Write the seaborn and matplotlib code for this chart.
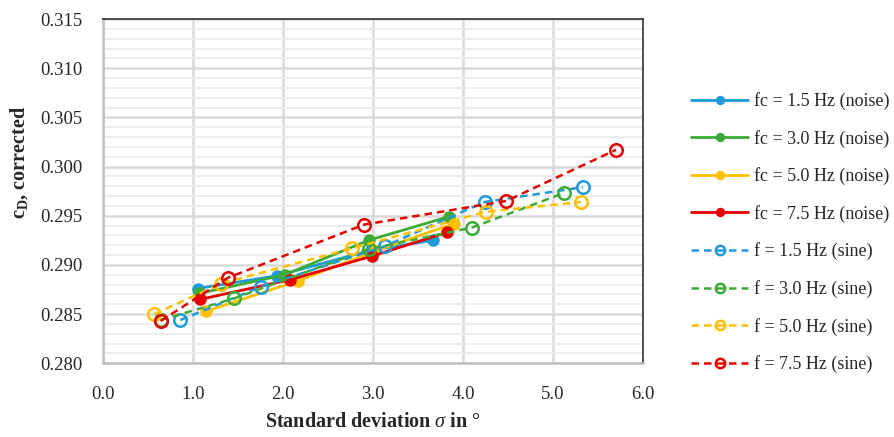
import matplotlib
matplotlib.use("Agg")
import matplotlib.pyplot as plt
from matplotlib.ticker import MultipleLocator
import seaborn as sns
import pandas as pd

# ---- data ----
noise_labels = ["fc = 1.5 Hz (noise)", "fc = 3.0 Hz (noise)", "fc = 5.0 Hz (noise)", "fc = 7.5 Hz (noise)"]
sine_labels = ["f = 1.5 Hz (sine)", "f = 3.0 Hz (sine)", "f = 5.0 Hz (sine)", "f = 7.5 Hz (sine)"]

noise15_x = [1.05, 1.93, 2.98, 3.67]
noise15_y = [0.2876, 0.2889, 0.2915, 0.2925]
noise30_x = [1.07, 2.02, 2.95, 3.84]
noise30_y = [0.2871, 0.2890, 0.2925, 0.2949]
noise50_x = [1.15, 2.17, 3.02, 3.90]
noise50_y = [0.2853, 0.2884, 0.2914, 0.2942]
noise75_x = [1.08, 2.08, 2.99, 3.82]
noise75_y = [0.2865, 0.2885, 0.2909, 0.2933]

sine15_x = [0.86, 1.76, 3.13, 4.24, 5.33]
sine15_y = [0.2844, 0.2878, 0.2919, 0.2964, 0.2979]
sine30_x = [0.64, 1.46, 2.95, 4.10, 5.12]
sine30_y = [0.2844, 0.2866, 0.2916, 0.2938, 0.2973]
sine50_x = [0.57, 1.31, 2.77, 4.25, 5.31]
sine50_y = [0.2850, 0.2881, 0.2917, 0.2954, 0.2964]
sine75_x = [0.64, 1.39, 2.90, 4.48, 5.70]
sine75_y = [0.2843, 0.2887, 0.2941, 0.2965, 0.3017]

colors = ["#1F9BDA", "#3CAB38", "#FFC000", "#E60000"]

x_ticks = [0.0, 1.0, 2.0, 3.0, 4.0, 5.0, 6.0]
y_ticks = [0.280, 0.285, 0.290, 0.295, 0.300, 0.305, 0.310, 0.315]

# ---- style ----
sns.set_theme(style="white")
plt.rcParams["font.family"] = ["Liberation Serif", "DejaVu Serif"]
plt.rcParams["mathtext.fontset"] = "custom"
plt.rcParams["mathtext.rm"] = "Liberation Serif"
plt.rcParams["mathtext.it"] = "Liberation Serif:italic"
plt.rcParams["mathtext.bf"] = "Liberation Serif:bold"

fig = plt.figure(figsize=(8.95, 4.37), dpi=100)
ax = fig.add_axes([103 / 895, 1 - 363.3 / 437, 540 / 895, 344.3 / 437])

noise = [(noise15_x, noise15_y), (noise30_x, noise30_y), (noise50_x, noise50_y), (noise75_x, noise75_y)]
sine = [(sine15_x, sine15_y), (sine30_x, sine30_y), (sine50_x, sine50_y), (sine75_x, sine75_y)]

for (xs, ys), lab, c in zip(noise, noise_labels, colors):
    df = pd.DataFrame({"x": xs, "y": ys})
    sns.lineplot(data=df, x="x", y="y", ax=ax, sort=False, estimator=None,
                 color=c, lw=2.0, marker="o", markersize=9, markeredgewidth=0,
                 label=lab, zorder=3)

for (xs, ys), lab, c in zip(sine, sine_labels, colors):
    df = pd.DataFrame({"x": xs, "y": ys})
    sns.lineplot(data=df, x="x", y="y", ax=ax, sort=False, estimator=None,
                 color=c, lw=1.8, linestyle=(0, (3, 2)), marker="o", markersize=9,
                 markerfacecolor="none", markeredgecolor=c, markeredgewidth=1.8,
                 label=lab, zorder=4)

ax.set_xlim(0, 6)
ax.set_ylim(0.280, 0.315)
ax.set_xticks(x_ticks)
ax.set_xticklabels([f"{v:.1f}" for v in x_ticks])
ax.set_yticks(y_ticks)
ax.set_yticklabels([f"{v:.3f}" for v in y_ticks])
ax.yaxis.set_minor_locator(MultipleLocator(0.001))

ax.grid(True, which="major", axis="both", color="#D9D9D9", lw=1.8, zorder=0)
ax.grid(True, which="minor", axis="y", color="#EBEBEB", lw=1.3, zorder=0)
ax.set_axisbelow(True)

ax.tick_params(axis="both", which="both", length=0, labelsize=13.5, colors="#262626")
ax.tick_params(axis="x", pad=16)
ax.tick_params(axis="y", pad=15)

for s in ["left", "bottom"]:
    ax.spines[s].set_color("#BFBFBF")
    ax.spines[s].set_linewidth(1.8)
for s in ["top", "right"]:
    ax.spines[s].set_color("#404040")
    ax.spines[s].set_linewidth(1.3)

ax.set_xlabel(r"Standard deviation $\sigma$ in °", fontsize=14.5, fontweight="bold",
              color="#262626", labelpad=7)
ax.set_ylabel(r"c$_{\mathbf{D}}$, corrected", fontsize=14.5, fontweight="bold",
              color="#262626")
ax.yaxis.set_label_coords((30 - 103) / 540, (363.3 - 162) / 344.3)

handles, labels = ax.get_legend_handles_labels()
ax.legend(handles, labels, loc="upper left",
          bbox_to_anchor=(691 / 895, 1 - 92 / 437), bbox_transform=fig.transFigure,
          frameon=False, fontsize=13, handlelength=3.16, handletextpad=0.33,
          labelspacing=1.09, borderpad=0, borderaxespad=0, markerscale=0.75)

fig.savefig("out.png", dpi=100)
